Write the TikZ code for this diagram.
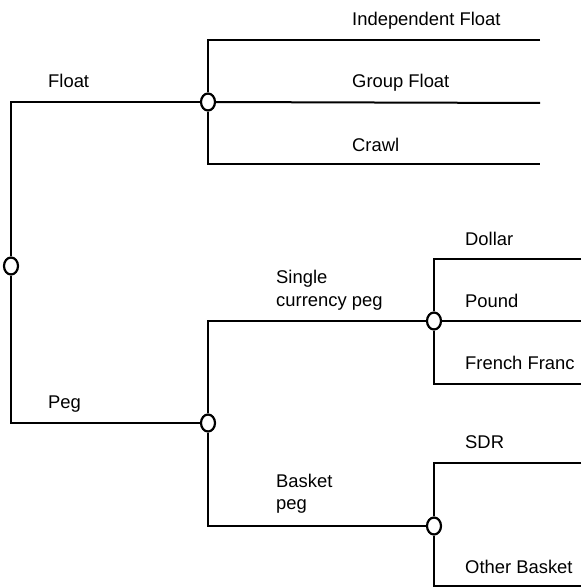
\documentclass[tikz,border=0pt]{standalone}
\usepackage{fontspec}
\setmainfont{Liberation Sans}
\usetikzlibrary{shapes.geometric}
\begin{document}
\begin{tikzpicture}[x=1pt,y=-1pt,
  conn/.style={line width=2pt,line join=miter},
  joint/.style={ellipse,draw,fill=white,line width=2.2pt,minimum width=14pt,minimum height=17pt,inner sep=0pt},
  lbl/.style={anchor=base west,inner sep=0pt,font=\fontsize{18.4}{23}\selectfont,align=left}]
\useasboundingbox (0,0) rectangle (581,588);
% joints
\node[joint] (root) at (11,266) {};
\node[joint] (fc) at (208,102) {};
\node[joint] (pc) at (208,423) {};
\node[joint] (sc) at (434,321) {};
\node[joint] (bc) at (434,526) {};
% corner coordinates
\coordinate (rt) at (11,102);
\coordinate (rb) at (11,423);
\coordinate (ft) at (208,40);
\coordinate (fb) at (208,164);
\coordinate (e1) at (540,40);
\coordinate (e2) at (540,103);
\coordinate (e3) at (540,164);
\coordinate (pt) at (208,321);
\coordinate (pb) at (208,526);
\coordinate (st) at (434,259);
\coordinate (sb) at (434,384);
\coordinate (s1) at (581,259);
\coordinate (s2) at (581,321);
\coordinate (s3) at (581,384);
\coordinate (bt) at (434,463);
\coordinate (bb) at (434,586);
\coordinate (b1) at (581,463);
\coordinate (b2) at (581,586);
% connectors
\draw[conn] (fc) -- (rt) -- (root);
\draw[conn] (root) -- (rb) -- (pc);
\draw[conn] (e1) -- (ft) -- (fc);
\draw[conn] (fc) -- (fb) -- (e3);
\draw[conn] (fc) -- (e2);
\draw[conn] (sc) -- (pt) -- (pc);
\draw[conn] (pc) -- (pb) -- (bc);
\draw[conn] (s1) -- (st) -- (sc);
\draw[conn] (sc) -- (sb) -- (s3);
\draw[conn] (sc) -- (s2);
\draw[conn] (b1) -- (bt) -- (bc);
\draw[conn] (bc) -- (bb) -- (b2);
% labels
\node[lbl] (tfloat) at (48,88) {Float};
\node[lbl] (tpeg) at (48,408) {Peg};
\node[lbl] (tind) at (352,26) {Independent Float};
\node[lbl] (tgrp) at (352,88) {Group Float};
\node[lbl] (tcrawl) at (352,152) {Crawl};
\node[lbl] (tsingle) at (276,283) {Single};
\node[lbl] (tcurr) at (276,306) {currency peg};
\node[lbl] (tbasket) at (276,487) {Basket};
\node[lbl] (tbpeg) at (276,509) {peg};
\node[lbl] (tdollar) at (465,245) {Dollar};
\node[lbl] (tpound) at (465,307) {Pound};
\node[lbl] (tff) at (465,369) {French Franc};
\node[lbl] (tsdr) at (465,448) {SDR};
\node[lbl] (tother) at (465,573) {Other Basket};
\end{tikzpicture}
\end{document}
